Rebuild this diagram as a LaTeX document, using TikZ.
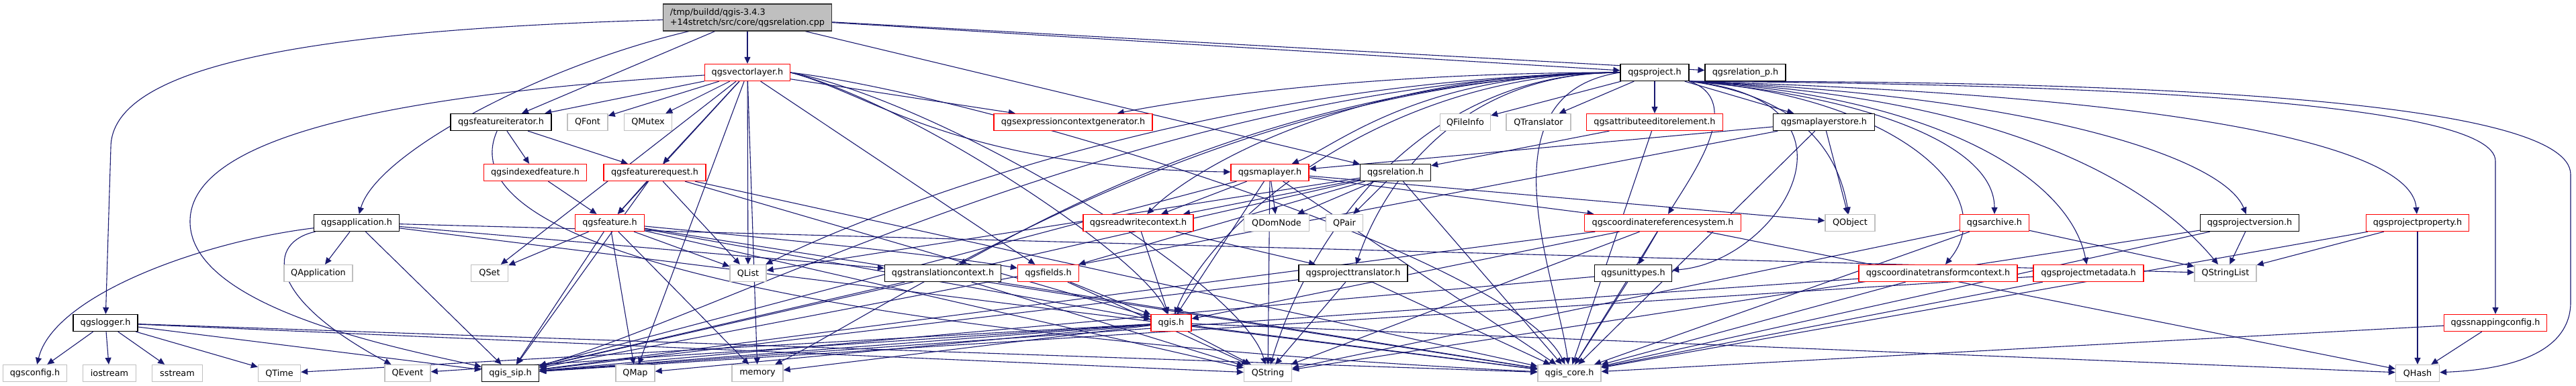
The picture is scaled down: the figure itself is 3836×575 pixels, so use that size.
\documentclass[tikz,border=0pt]{standalone}
\usepackage{fontspec}
\setmainfont{DejaVu Sans}
\usetikzlibrary{arrows.meta, backgrounds}
\definecolor{depEdge}{HTML}{191970}
\definecolor{depCut}{HTML}{FF0000}
\definecolor{depExt}{HTML}{BFBFBF}
\definecolor{depRoot}{HTML}{BFBFBF}

\begin{document}
\begin{tikzpicture}[
  x=1pt, y=-1pt,
  font=\fontsize{12.8}{15}\selectfont,
  file/.style={draw=black, line width=1.3pt, fill=white, minimum height=25pt, inner sep=0pt},
  cut/.style={file, draw=depCut},
  ext/.style={file, draw=depExt},
  root/.style={file, fill=depRoot, draw=black!80, align=left, minimum height=40pt},
  dep/.style={-{Triangle[length=10pt, width=9pt]}, line width=1.1pt, draw=depEdge}
]
\useasboundingbox (0,0) rectangle (3836,575);

% row 0 and 1
\node[root, minimum width=251] (main) at (1113,26) {/tmp/buildd/qgis-3.4.3\\+14stretch/src/core/qgsrelation.cpp};
\node[cut, minimum width=127] (vl) at (1113,108) {qgsvectorlayer.h};
\node[file, minimum width=102] (proj) at (2464,108) {qgsproject.h};
\node[file, minimum width=120] (relp) at (2599,108) {qgsrelation\_p.h};

% row 2
\node[file, minimum width=150] (fit) at (746,182) {qgsfeatureiterator.h};
\node[ext, minimum width=60] (qfont) at (875,182) {QFont};
\node[ext, minimum width=71] (qmutex) at (965,182) {QMutex};
\node[cut, minimum width=236] (ecg) at (1598,182) {qgsexpressioncontextgenerator.h};
\node[ext, minimum width=75] (qfileinfo) at (2182,182) {QFileInfo};
\node[ext, minimum width=96] (qtranslator) at (2291,182) {QTranslator};
\node[cut, minimum width=203] (aee) at (2464,182) {qgsattributeeditorelement.h};
\node[file, minimum width=151] (mls) at (2716,182) {qgsmaplayerstore.h};

% row 3
\node[cut, minimum width=153] (idx) at (797,257) {qgsindexedfeature.h};
\node[cut, minimum width=152] (freq) at (975,257) {qgsfeaturerequest.h};
\node[cut, minimum width=116] (ml) at (1891,257) {qgsmaplayer.h};
\node[file, minimum width=105] (rel) at (2078,257) {qgsrelation.h};

% row 4
\node[file, minimum width=127] (app) at (531,332) {qgsapplication.h};
\node[cut, minimum width=103] (feat) at (908,332) {qgsfeature.h};
\node[cut, minimum width=164] (rwc) at (1695,332) {qgsreadwritecontext.h};
\node[ext, minimum width=97] (qdom) at (1901,332) {QDomNode};
\node[ext, minimum width=55] (qpair) at (2002,332) {QPair};
\node[cut, minimum width=233] (crs) at (2476,332) {qgscoordinatereferencesystem.h};
\node[ext, minimum width=74] (qobject) at (2755,332) {QObject};
\node[cut, minimum width=103] (arch) at (2970,332) {qgsarchive.h};
\node[file, minimum width=147] (pver) at (3350,332) {qgsprojectversion.h};
\node[cut, minimum width=153] (pprop) at (3600,332) {qgsprojectproperty.h};

% row 5
\node[ext, minimum width=102] (qapp) at (474,407) {QApplication};
\node[ext, minimum width=55] (qset) at (729,407) {QSet};
\node[ext, minimum width=54] (qlist) at (1114,407) {QList};
\node[file, minimum width=173] (tctx) at (1404,407) {qgstranslationcontext.h};
\node[cut, minimum width=91] (flds) at (1561,407) {qgsfields.h};
\node[file, minimum width=162] (ptr) at (2015,407) {qgsprojecttranslator.h};
\node[file, minimum width=115] (unit) at (2432,407) {qgsunittypes.h};
\node[cut, minimum width=236] (ctc) at (2886,407) {qgscoordinatetransformcontext.h};
\node[cut, minimum width=164] (pmeta) at (3110,407) {qgsprojectmetadata.h};
\node[ext, minimum width=92] (qsl) at (3314,407) {QStringList};

% row 6
\node[file, minimum width=96] (log) at (157,481) {qgslogger.h};
\node[cut, minimum width=60] (qgis) at (1744,481) {qgis.h};
\node[cut, minimum width=153] (snap) at (3716,481) {qgssnappingconfig.h};

% row 7
\node[ext, minimum width=95] (cfg) at (52,556) {qgsconfig.h};
\node[ext, minimum width=79] (ios) at (163,556) {iostream};
\node[ext, minimum width=75] (sst) at (264,556) {sstream};
\node[ext, minimum width=63] (qtime) at (416,556) {QTime};
\node[ext, minimum width=68] (qevent) at (607,556) {QEvent};
\node[file, minimum width=85] (sip) at (760,556) {qgis\_sip.h};
\node[ext, minimum width=58] (qmap) at (946,556) {QMap};
\node[ext, minimum width=76] (mem) at (1128,556) {memory};
\node[ext, minimum width=71] (qstr) at (1888,556) {QString};
\node[ext, minimum width=94] (core) at (2337,556) {qgis\_core.h};
\node[ext, minimum width=65] (qhash) at (3600,556) {QHash};

\begin{scope}[on background layer]
% qgsrelation.cpp
\foreach \dst in {vl, fit, proj, relp, rel} \draw[dep] (main) -- (\dst);
\draw[dep] (main) .. controls (450,45) and (165,100) .. (165,220) -- (log);
\draw[dep] (main) .. controls (800,100) and (560,230) .. (app);

% qgsvectorlayer.h
\foreach \dst in {fit, qfont, qmutex, freq, feat, qlist, qset, qmap, mem, ecg, flds} \draw[dep] (vl) -- (\dst);
\draw[dep] (vl.east) .. controls (1300,140) and (1420,250) .. (ml);
\draw[dep] (vl.east) .. controls (1350,150) and (1700,380) .. (qgis);
\draw[dep] (vl.east) .. controls (1400,150) and (1850,420) .. (qstr);
\draw[dep] (vl.east) .. controls (1450,140) and (2250,380) .. (core);
\draw[dep] (vl) .. controls (600,140) and (283,200) .. (283,330) .. controls (283,460) and (600,520) .. (sip);

% feature classes
\foreach \dst in {freq, idx} \draw[dep] (fit) -- (\dst);
\draw[dep] (fit) .. controls (640,420) and (1600,520) .. (core);
\draw[dep] (idx) -- (feat);
\foreach \dst in {feat, qlist, qgis, core, sip} \draw[dep] (freq) -- (\dst);
\foreach \dst in {qset, qlist, sip, qmap, mem, qstr, core, qgis} \draw[dep] (feat) -- (\dst);
\draw[dep] (feat) .. controls (1200,360) and (1400,380) .. (flds);

% qgsapplication.h and qgslogger.h
\foreach \dst in {qapp, sip, core, tctx, qsl} \draw[dep] (app) -- (\dst);
\draw[dep] (app) .. controls (300,360) and (80,440) .. (cfg);
\draw[dep] (app) .. controls (400,360) and (390,440) .. (qevent);
\foreach \dst in {cfg, ios, sst, qtime, sip, qstr, core} \draw[dep] (log) -- (\dst);

% qgsproject.h, left side
\draw[dep] (proj.west) .. controls +(-400,0) and +(150,-30) .. (ecg);
\draw[dep] (proj.west) .. controls +(-300,0) and +(100,-40) .. (ml);
\draw[dep] (proj.west) .. controls +(-400,0) and +(80,-80) .. (rwc);
\draw[dep] (proj.west) .. controls +(-600,10) and +(200,-100) .. (qlist);
\draw[dep] (proj.west) .. controls +(-700,10) and +(300,-80) .. (sip);
\draw[dep] (proj.west) .. controls +(-600,10) and +(200,-100) .. (mem);
\draw[dep] (proj.west) .. controls +(-500,10) and +(150,-80) .. (tctx);
\draw[dep] (proj.west) .. controls +(-250,0) and +(40,-120) .. (ptr);
\draw[dep] (proj.west) .. controls +(-350,0) and +(60,-150) .. (qgis);
\draw[dep] (proj.west) .. controls +(-300,0) and +(60,-200) .. (qstr);
\draw[dep] (proj.west) .. controls (2200,140) and (2320,420) .. (core);
% qgsproject.h, below
\foreach \dst in {qfileinfo, qtranslator, aee, mls} \draw[dep] (proj) -- (\dst);
\draw[dep] (proj.south east) .. controls (2600,150) and (2520,260) .. (crs);
\draw[dep] (proj.south east) .. controls (2800,150) and (2650,390) .. (unit);
% qgsproject.h, right side
\draw[dep] (proj.south east) .. controls +(150,20) and +(-20,-120) .. (qobject);
\draw[dep] (proj.south east) .. controls +(250,20) and +(0,-120) .. (arch);
\draw[dep] (proj.south east) .. controls +(300,20) and +(100,-120) .. (ctc);
\draw[dep] (proj.south east) .. controls +(350,20) and +(-30,-150) .. (pmeta);
\draw[dep] (proj.south east) .. controls +(500,20) and +(-40,-100) .. (pver);
\draw[dep] (proj.south east) .. controls +(500,25) and +(-100,-120) .. (qsl);
\draw[dep] (proj.south east) .. controls +(700,20) and +(-10,-120) .. (pprop);
\draw[dep] (proj.south east) .. controls (3200,120) and (3828,150) .. (3828,260) -- (3828,450) .. controls (3828,520) and (3750,550) .. (qhash);
\draw[dep] (proj.south east) .. controls (3100,125) and (3716,150) .. (3716,240) -- (snap);

% layers and relations
\foreach \dst in {qdom, qpair, rwc, flds, qlist, sip, core} \draw[dep] (rel) -- (\dst);
\foreach \dst in {rwc, qdom, qobject, crs, core, sip, qgis, qstr} \draw[dep] (ml) -- (\dst);
\foreach \dst in {qgis, ptr} \draw[dep] (rwc) -- (\dst);
\foreach \dst in {unit, core, qgis, sip, qstr, qhash} \draw[dep] (crs) -- (\dst);
\foreach \dst in {core, qstr, qsl} \draw[dep] (arch) -- (\dst);
\foreach \dst in {qsl, core, qstr} \draw[dep] (pver) -- (\dst);
\foreach \dst in {qsl, qhash, core} \draw[dep] (pprop) -- (\dst);
\foreach \dst in {qhash, core} \draw[dep] (snap) -- (\dst);
\foreach \dst in {sip, qstr, core} \draw[dep] (tctx) -- (\dst);
\foreach \dst in {qgis, qstr} \draw[dep] (flds) -- (\dst);
\foreach \dst in {core, qstr, sip} \draw[dep] (ptr) -- (\dst);
\foreach \dst in {core, sip} \draw[dep] (unit) -- (\dst);
\foreach \dst in {core, sip} \draw[dep] (ctc) -- (\dst);
\foreach \dst in {core, sip} \draw[dep] (pmeta) -- (\dst);
\foreach \dst in {rel, core} \draw[dep] (aee) -- (\dst);
\foreach \dst in {ml, qobject, core, sip} \draw[dep] (mls) -- (\dst);
\foreach \dst in {sip, qmap, mem, qstr, core, qhash, qtime, qevent} \draw[dep] (qgis) -- (\dst);
\end{scope}
\end{tikzpicture}
\end{document}
